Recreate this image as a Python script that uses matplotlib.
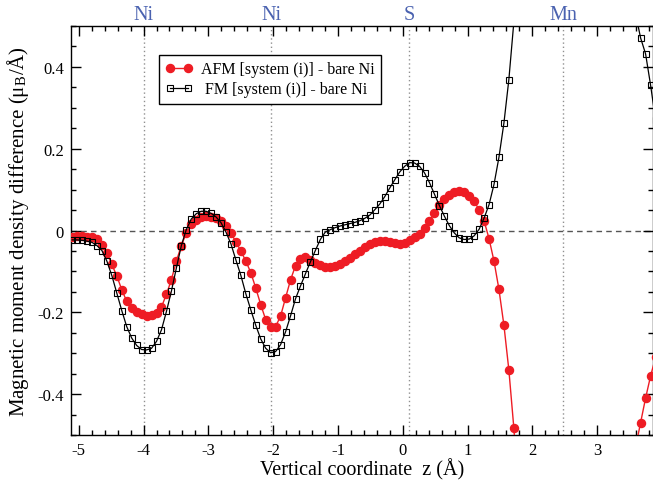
import numpy as np
import matplotlib
matplotlib.use("Agg")
import matplotlib.pyplot as plt
from matplotlib.ticker import FixedLocator, MultipleLocator
import matplotlib.transforms as mtransforms

plt.rcParams['font.family'] = ['Liberation Serif', 'DejaVu Serif']
plt.rcParams['axes.unicode_minus'] = False
plt.rcParams['mathtext.fontset'] = 'stix'

# ---------------- data ----------------
z = [-5.102, -5.026, -4.949, -4.873, -4.796, -4.719, -4.643, -4.566, -4.490, -4.413,
     -4.336, -4.260, -4.183, -4.107, -4.030, -3.953, -3.877, -3.800, -3.724, -3.647,
     -3.570, -3.494, -3.417, -3.341, -3.264, -3.187, -3.111, -3.034, -2.958, -2.881,
     -2.804, -2.728, -2.651, -2.575, -2.498, -2.421, -2.345, -2.268, -2.192, -2.115,
     -2.038, -1.962, -1.885, -1.809, -1.732, -1.655, -1.579, -1.502, -1.426, -1.349,
     -1.272, -1.196, -1.119, -1.043, -0.966, -0.889, -0.813, -0.736, -0.660, -0.583,
     -0.506, -0.430, -0.353, -0.277, -0.200, -0.123, -0.047, 0.030, 0.106, 0.183,
     0.260, 0.336, 0.413, 0.489, 0.566, 0.643, 0.719, 0.796, 0.872, 0.949,
     1.026, 1.102, 1.179, 1.255, 1.332, 1.409, 1.485, 1.562, 1.638, 1.715,
     1.792, np.nan, 3.594, 3.671, 3.748, 3.825, 3.902]

fm = [-0.023, -0.023, -0.024, -0.026, -0.029, -0.037, -0.049, -0.075, -0.110, -0.153,
      -0.196, -0.235, -0.263, -0.281, -0.291, -0.292, -0.288, -0.271, -0.243, -0.198,
      -0.148, -0.092, -0.037, 0.002, 0.028, 0.041, 0.047, 0.047, 0.042, 0.033,
      0.019, -0.004, -0.033, -0.072, -0.110, -0.155, -0.194, -0.232, -0.265, -0.288,
      -0.299, -0.296, -0.279, -0.248, -0.209, -0.167, -0.136, -0.106, -0.077, -0.049,
      -0.022, -0.004, 0.002, 0.007, 0.011, 0.014, 0.017, 0.020, 0.024, 0.030,
      0.038, 0.051, 0.065, 0.083, 0.104, 0.124, 0.143, 0.157, 0.166, 0.165,
      0.157, 0.141, 0.117, 0.089, 0.061, 0.035, 0.012, -0.006, -0.018, -0.022,
      -0.021, -0.013, 0.003, 0.030, 0.063, 0.113, 0.179, 0.263, 0.369, 0.510,
      0.680, np.nan, 0.530, 0.471, 0.432, 0.356, 0.270]

afm = [-0.015, -0.014, -0.014, -0.015, -0.016, -0.021, -0.036, -0.054, -0.083, -0.111,
       -0.145, -0.173, -0.190, -0.200, -0.205, -0.208, -0.207, -0.201, -0.187, -0.156,
       -0.120, -0.075, -0.037, -0.006, 0.015, 0.026, 0.033, 0.035, 0.034, 0.031,
       0.024, 0.011, -0.006, -0.028, -0.050, -0.075, -0.103, -0.141, -0.181, -0.218,
       -0.236, -0.235, -0.209, -0.165, -0.121, -0.086, -0.069, -0.065, -0.071, -0.079,
       -0.084, -0.089, -0.090, -0.087, -0.082, -0.075, -0.067, -0.057, -0.049, -0.041,
       -0.034, -0.028, -0.026, -0.025, -0.027, -0.030, -0.033, -0.031, -0.024, -0.016,
       -0.008, 0.005, 0.024, 0.042, 0.063, 0.077, 0.087, 0.094, 0.096, 0.094,
       0.084, 0.071, 0.051, 0.024, -0.020, -0.075, -0.144, -0.232, -0.341, -0.483,
       -0.660, np.nan, -0.530, -0.470, -0.410, -0.356, -0.310]

atom_names = ['Ni', 'Ni', 'S', 'Mn']
atom_pos = [-4.0, -2.03, 0.10, 2.48]

xticks = [-5, -4, -3, -2, -1, 0, 1, 2, 3]
xticklabels = ['-5', '-4', '-3', '-2', '-1', '0', '1', '2', '3']
yticks = [-0.4, -0.2, 0.0, 0.2, 0.4]
yticklabels = ['-0.4', '-0.2', '0', '0.2', '0.4']

label_afm = 'AFM [system (i)] - bare Ni'
label_fm = ' FM [system (i)] - bare Ni'

# ---------------- figure ----------------
W, H = 653, 485
fig = plt.figure(figsize=(W / 100, H / 100), dpi=100)
L, R, T, B = 71, 652.5, 27, 436
ax = fig.add_axes([L / W, 1 - B / H, (R - L) / W, (B - T) / H])

ax.set_xlim(-5.12, 3.855)
ax.set_ylim(-0.5, 0.5)

for xp in atom_pos:
    ax.axvline(xp, color='#909090', lw=1.0, ls=(0, (1, 2)), zorder=1)
ax.axhline(0, color='#555555', lw=1.0, ls=(0, (4, 3)), zorder=1)

ax.plot(z, afm, color='#ee1c24', lw=1.0, marker='o', ms=5.8,
        mfc='#ee1c24', mec='#ee1c24', label=label_afm, zorder=3)
ax.plot(z, fm, color='black', lw=0.9, marker='s', ms=4.4,
        mfc='none', mec='black', mew=0.8, label=label_fm, zorder=4)

trans = mtransforms.blended_transform_factory(ax.transData, ax.transAxes)
for name, xp in zip(atom_names, atom_pos):
    ax.text(xp, 1.028, name, transform=trans, ha='center', va='center',
            fontsize=14.5, color='#4a62b0')

ax.xaxis.set_major_locator(FixedLocator(xticks))
ax.set_xticklabels(xticklabels)
ax.xaxis.set_minor_locator(MultipleLocator(0.2))
ax.yaxis.set_major_locator(FixedLocator(yticks))
ax.set_yticklabels(yticklabels)
ax.yaxis.set_minor_locator(MultipleLocator(0.05))

ax.tick_params(which='both', direction='in', top=True, right=True,
               labelsize=12, width=1.0)
ax.tick_params(which='major', length=7)
ax.tick_params(which='minor', length=3.5)
ax.tick_params(axis='x', which='major', pad=5)
ax.tick_params(axis='y', which='major', pad=5)
for s in ax.spines.values():
    s.set_linewidth(1.0)

ax.set_xlabel('Vertical coordinate  z (Å)', fontsize=14.5, labelpad=0)
ax.set_ylabel('Magnetic moment density difference (μ$_\\mathregular{B}$/Å)',
              fontsize=15, labelpad=5)

leg = ax.legend(loc='upper left', bbox_to_anchor=((159 - L) / (R - L), (B - 56) / (B - T)),
                borderaxespad=0, fontsize=11.5, numpoints=2, handlelength=1.7,
                frameon=True, fancybox=False, edgecolor='black', framealpha=1,
                borderpad=0.4, labelspacing=0.25, handletextpad=0.5)
leg.get_frame().set_linewidth(1.0)

fig.savefig('out.png', dpi=100)
